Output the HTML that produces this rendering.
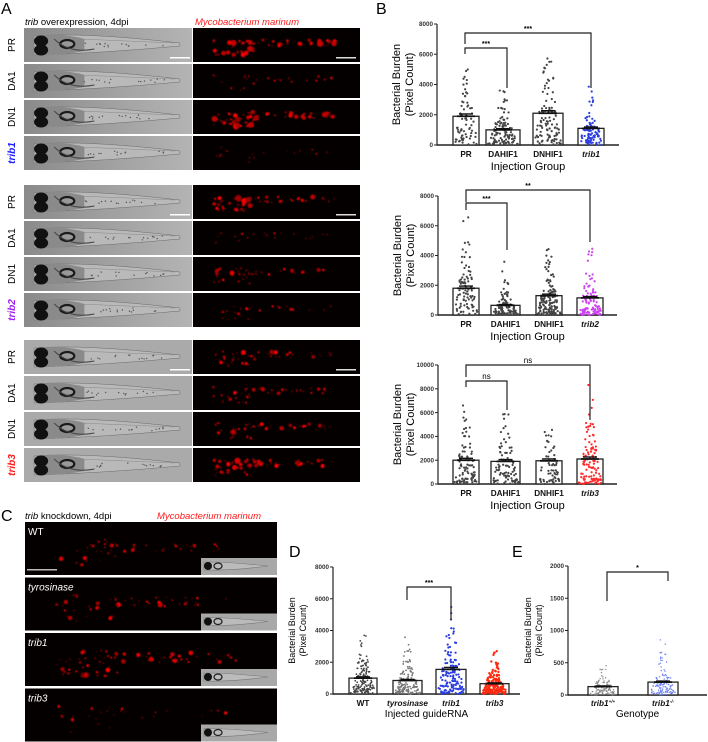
<!DOCTYPE html>
<html><head><meta charset="utf-8">
<style>
html,body{margin:0;padding:0;background:#fff;}
svg{display:block;font-family:"Liberation Sans",sans-serif;}
</style></head>
<body>
<svg id="s" width="708" height="742" viewBox="0 0 708 742" xmlns="http://www.w3.org/2000/svg">
<defs>
<linearGradient id="gg" x1="0" x2="1" y1="0" y2="0">
<stop offset="0" stop-color="#8a8a8a"/><stop offset="0.5" stop-color="#a0a0a0"/><stop offset="1" stop-color="#b4b4b4"/>
</linearGradient>
<filter id="bl" x="-50%" y="-50%" width="200%" height="200%"><feGaussianBlur stdDeviation="0.6"/></filter>
</defs>
<text x="1" y="14" font-size="16">A</text>
<text x="25" y="25" font-size="9.5"><tspan font-style="italic">trib</tspan> overexpression, 4dpi</text>
<text x="195" y="25" font-size="9.5" fill="#ff1a1a" font-style="italic">Mycobacterium marinum</text>
<text x="376" y="14" font-size="16">B</text>
<text x="1" y="521" font-size="16">C</text>
<text x="25" y="519" font-size="9.5"><tspan font-style="italic">trib</tspan> knockdown, 4dpi</text>
<text x="157" y="519" font-size="9.5" fill="#ff1a1a" font-style="italic">Mycobacterium marinum</text>
<text x="289" y="557" font-size="16">D</text>
<text x="512" y="557" font-size="16">E</text>
<g id="g"></g>
</svg>
<script>
var NS="http://www.w3.org/2000/svg",G=document.getElementById('g');
function el(t,a,p){var e=document.createElementNS(NS,t);for(var k in a)e.setAttribute(k,a[k]);(p||G).appendChild(e);return e;}
function tx(x,y,s,a){var e=el('text',Object.assign({x:x,y:y},a||{}));e.textContent=s;return e;}
var seed=7;function R(){seed|=0;seed=seed+0x6D2B79F5|0;var t=Math.imul(seed^seed>>>15,1|seed);t=t+Math.imul(t^t>>>7,61|t)^t;return((t^t>>>14)>>>0)/4294967296;}

function fish(x,y,w,h,light){
  el('rect',{x:x,y:y,width:w,height:h,fill:light?'#aaaaaa':'url(#gg)'});
  var cy=y+h*0.5,s=w/167;
  el('path',{d:'M'+(x+10*s)+' '+(cy-9)+' Q'+(x+60*s)+' '+(cy-13)+' '+(x+155*s)+' '+(cy-2)+' L'+(x+155*s)+' '+(cy+1)+' Q'+(x+80*s)+' '+(cy+8)+' '+(x+10*s)+' '+(cy+10)+' Z',fill:'#b9b9b9',stroke:'#6a6a6a','stroke-width':0.5});
  el('path',{d:'M'+(x+12*s)+' '+(cy-9)+' Q'+(x+40*s)+' '+(cy-12)+' '+(x+60*s)+' '+(cy-6)+' L'+(x+60*s)+' '+(cy+6)+' Q'+(x+35*s)+' '+(cy+11)+' '+(x+12*s)+' '+(cy+10)+'Z',fill:'#8a8a8a'});
  el('ellipse',{cx:x+17*s,cy:cy-4,rx:7*s,ry:5.5,fill:'#111'});
  el('ellipse',{cx:x+17*s,cy:cy+5,rx:7*s,ry:5.5,fill:'#111'});
  el('ellipse',{cx:x+43*s,cy:cy-1,rx:7*s,ry:4,fill:'#999',stroke:'#1a1a1a','stroke-width':2.2});
  el('path',{d:'M'+(x+30*s)+' '+(cy-6)+' Q'+(x+45*s)+' '+(cy+9)+' '+(x+70*s)+' '+(cy+4),fill:'none',stroke:'#444','stroke-width':1});
  el('line',{x1:x+55*s,y1:cy-6,x2:x+150*s,y2:cy-2,stroke:'#888','stroke-width':0.5});
  for(var i=0;i<14;i++)el('circle',{cx:x+(60+R()*80)*s,cy:cy+R()*4-2,r:0.7,fill:'#555'});
}
function redp(x,y,w,h,k){
  el('rect',{x:x,y:y,width:w,height:h,fill:'#050000'});
  var cy=y+h*0.5;
  var g=el('g',{filter:'url(#bl)'});
  var n=Math.round(45*k);
  for(var i=0;i<n;i++){var hx=R()<0.5;var px,py;
    if(hx){px=x+w*(0.12+R()*0.25);py=cy+(R()-0.35)*h*0.5;}
    else{px=x+w*(0.3+R()*0.55);py=cy+(R()-0.5)*h*0.18-2;}
    var r=0.5+R()*R()*2.2*Math.min(k,1.3);
    el('circle',{cx:px,cy:py,r:r,fill:'rgb('+(140+Math.floor(R()*115))+',0,0)'},g);}
}
var gx=24,gw=168,rx=193,rw=167;
var groups=[[28,['PR','DA1','DN1','trib1'],'#1a1aff',[1.4,0.5,1.5,0.35]],[185,['PR','DA1','DN1','trib2'],'#a020f0',[1.3,0.45,0.9,0.55]],[340,['PR','DA1','DN1','trib3'],'#ff1a1a',[1.0,0.9,1.0,1.5]]];
groups.forEach(function(g,gi){
  g[1].forEach(function(lb,i){
    var y=g[0]+i*36,h=34;
    fish(gx,y,gw,h,gi==2);
    redp(rx,y,rw,h,g[3][i]);
    var t=tx(0,0,lb,{'font-size':10,'text-anchor':'middle',transform:'translate(15,'+(y+h/2)+') rotate(-90)'});
    if(i==3){t.setAttribute('fill',g[2]);t.setAttribute('font-weight','bold');t.setAttribute('font-style','italic');}
    if(i==0){el('rect',{x:170,y:y+h-5,width:20,height:1.5,fill:'#fff'});el('rect',{x:336,y:y+h-5,width:20,height:1.5,fill:'#ddd'});}
  });
});

var cl=['WT','tyrosinase','trib1','trib3'],ck=[0.8,0.9,1.5,0.5];
cl.forEach(function(lb,i){
  var y=522+i*55.5,h=53;
  redp(25,y,252,h,ck[i]*1.2);
  el('rect',{x:201,y:y+h-17,width:76,height:17,fill:'#a8a8a8'});
  el('path',{d:'M204 '+(y+h-13)+' Q230 '+(y+h-13)+' 268 '+(y+h-9)+' Q230 '+(y+h-4)+' 204 '+(y+h-5)+'Z',fill:'#bbb',stroke:'#777','stroke-width':0.6});
  el('ellipse',{cx:208,cy:y+h-9,rx:4,ry:4,fill:'#111'});
  el('ellipse',{cx:218,cy:y+h-9,rx:4,ry:3,fill:'none',stroke:'#222','stroke-width':1.3});
  var t=tx(28,y+13,lb,{'font-size':10,fill:'#fff'});if(i>0)t.setAttribute('font-style','italic');
  if(i==0)el('rect',{x:27,y:y+h-6,width:30,height:1.5,fill:'#bbb'});
});

function chart(o){
  var ax=o.ax,y0=o.y0,yt=o.yt,mx=o.max;
  function Y(v){return y0-(v/mx)*(y0-yt);}
  el('line',{x1:ax,y1:yt,x2:ax,y2:y0+0.7,stroke:'#222','stroke-width':1.2});
  el('line',{x1:ax,y1:y0,x2:o.ae,y2:y0,stroke:'#222','stroke-width':1.4});
  o.ticks.forEach(function(v){var y=Y(v);el('line',{x1:ax-3,y1:y,x2:ax,y2:y,stroke:'#222','stroke-width':1});
    tx(ax-4,y+2.2,String(v),{'font-size':6.3,'text-anchor':'end','font-weight':'bold',fill:'#333'});});
  o.bars.forEach(function(b){
    var bx=b[0],bw=b[1],m=b[2],c=b[3],n=b[4],cap=b[5],lb=b[6],it=b[7],sz=b[8]||1.1;
    el('rect',{x:bx,y:Y(m),width:bw,height:y0-Y(m),fill:'#fff',stroke:'#222','stroke-width':1.3});
    for(var i=0;i<n;i++){var v=-Math.log(1-R()*0.999)*m*0.95;if(v>cap)v=cap*(0.6+R()*0.4);
      var spread=(bw/2-1)*Math.max(0.25,Math.exp(-v/(m*2.2)));
      el('circle',{cx:bx+bw/2+(R()*2-1)*spread,cy:Y(v),r:sz,fill:c});}
    var ey=Y(m*1.08);el('line',{x1:bx+bw/2,y1:ey,x2:bx+bw/2,y2:Y(m),stroke:'#111','stroke-width':1.2});
    el('line',{x1:bx+bw/2-7,y1:ey,x2:bx+bw/2+7,y2:ey,stroke:'#111','stroke-width':1.4});
    el('line',{x1:bx+bw/2-9,y1:Y(m),x2:bx+bw/2+9,y2:Y(m),stroke:'#111','stroke-width':1.8});
    var t=tx(bx+bw/2,o.ly,lb,{'font-size':8.2,'font-weight':'bold','text-anchor':'middle',fill:b[9]||'#111'});
    if(it)t.setAttribute('font-style','italic');
    if(b[10]){var s=el('tspan',{dy:-3,'font-size':4.5},t);s.textContent=b[10];}
  });
  tx((ax+o.ae)/2,o.ty,o.title,{'font-size':o.tfs||11,'text-anchor':'middle'});
  var cy=(yt+y0)/2;
  tx(0,0,'Bacterial Burden',{'font-size':o.yfs,'text-anchor':'middle',transform:'translate('+(o.ylx)+','+cy+') rotate(-90)'});
  tx(0,0,'(Pixel Count)',{'font-size':o.yfs,'text-anchor':'middle',transform:'translate('+(o.ylx+o.yfs*1.2)+','+cy+') rotate(-90)'});
  (o.br||[]).forEach(function(b){
    el('polyline',{points:b[0]+','+b[3]+' '+b[0]+','+b[2]+' '+b[1]+','+b[2]+' '+b[1]+','+b[4],fill:'none',stroke:'#222','stroke-width':1.2});
    tx((b[0]+b[1])/2,b[2]-2,b[5],{'font-size':b[5]=='ns'?8:7,'text-anchor':'middle','font-weight':b[5]=='ns'?'normal':'bold'});
  });
}
var gry='#444';
chart({ax:437,y0:145,yt:24,max:8000,ae:619,ticks:[0,2000,4000,6000,8000],ly:157,ty:170,title:'Injection Group',ylx:400,yfs:11,
 bars:[[453,26,1900,gry,70,5900,'PR'],[486,34,1000,gry,110,3900,'DAHIF1'],[533,30,2100,gry,110,6100,'DNHIF1'],[578,26,1100,'#2a3ee0',90,4100,'trib1',1,1.1,'#111']],
 br:[[465,591,33,44,88,'***'],[465,507,48,54,88,'***']]});
chart({ax:438,y0:315,yt:196,max:8000,ae:617,ticks:[0,2000,4000,6000,8000],ly:327,ty:340,title:'Injection Group',ylx:401,yfs:11,
 bars:[[453,26,1800,gry,90,6800,'PR'],[491,29,650,gry,100,4400,'DAHIF1'],[536,26,1300,gry,140,6100,'DNHIF1'],[577,26,1150,'#cc44ee',100,4600,'trib2',1,1.1,'#111']],
 br:[[466,590,190,202,242,'**'],[466,507,203,210,250,'***']]});
chart({ax:438,y0:484,yt:365,max:10000,ae:617,ticks:[0,2000,4000,6000,8000,10000],ly:496,ty:509,title:'Injection Group',ylx:401,yfs:11,
 bars:[[453,26,2000,gry,90,7800,'PR'],[491,29,1900,gry,90,6400,'DAHIF1'],[536,26,1950,gry,60,4900,'DNHIF1'],[577,26,2100,'#ff2a2a',110,8500,'trib3',1,1.1,'#111']],
 br:[[466,590,365,377,420,'ns'],[466,507,381,387,410,'ns']]});
chart({ax:333,y0:694,yt:567,max:8000,ae:520,ticks:[0,2000,4000,6000,8000],ly:706,ty:717,title:'Injected guideRNA',tfs:10,ylx:295,yfs:9,
 bars:[[349,28,1000,gry,150,3900,'WT',0,0.9],[393,29,850,'#777',150,3800,'tyrosinase',1,0.9],[436,30,1550,'#2a3ee0',140,6000,'trib1',1,1.1],[480,29,650,'#ff2a10',160,3100,'trib3',1,1.2]],
 br:[[407,451,587,600,620,'***']]});
chart({ax:568,y0:695,yt:566,max:2000,ae:707,ticks:[0,500,1000,1500,2000],ly:706,ty:717,title:'Genotype',tfs:10,ylx:531,yfs:9,
 bars:[[588,30,130,'#888',120,650,'trib1',1,0.7,'#111','+/+'],[648,30,200,'#6b7ff0',140,1480,'trib1',1,0.7,'#111','-/-']],
 br:[[607,668,572,601,581,'*']]});
</script>
</body></html>
